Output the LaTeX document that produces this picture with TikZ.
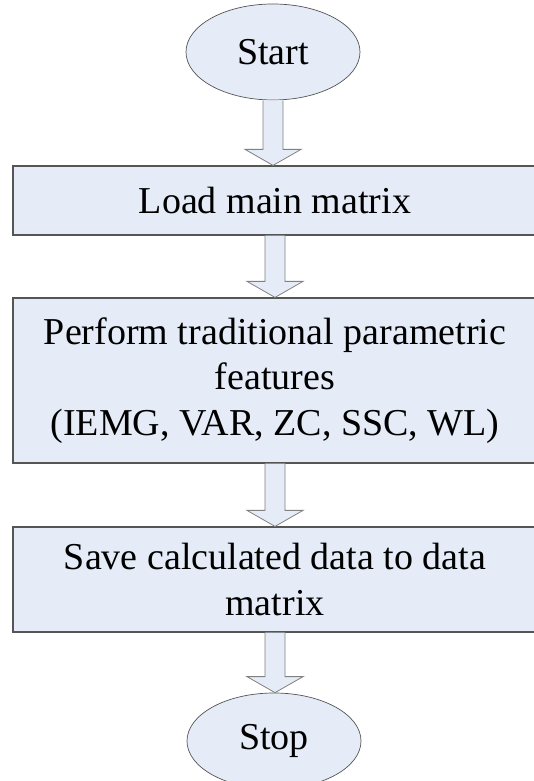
\documentclass[tikz,border=0pt]{standalone}
\usepackage{fontspec}
\setmainfont{Liberation Serif}
\usetikzlibrary{shapes.geometric,calc}
\definecolor{boxfill}{RGB}{229,236,247}
\definecolor{boxline}{RGB}{85,85,85}
\definecolor{arrline}{RGB}{128,128,128}

\begin{document}
\begin{tikzpicture}[x=1pt,y=1pt,font=\fontsize{38}{45.5}\selectfont,
  term/.style={ellipse,draw=boxline,fill=boxfill,line width=0.7pt,minimum width=174pt,minimum height=96pt,inner sep=0pt},
  proc/.style={rectangle,draw=boxline,fill=boxfill,line width=1.2pt,minimum width=524pt,align=center,inner sep=0pt},
  blockarrow/.style={draw=arrline,fill=boxfill,line width=0.8pt,line join=miter}]
\useasboundingbox (0,0) rectangle (533,781);
\node[term] (start) at (273,729) {Start};
\node[proc,minimum height=69pt] (load) at (275,580.5) {Load main matrix};
\node[proc,minimum height=165pt] (perform) at (275,400.5) {Perform traditional parametric\\features\\(IEMG, VAR, ZC, SSC, WL)};
\node[proc,minimum height=105pt] (save) at (275,201.5) {Save calculated data to data\\matrix};
\node[term] (stop) at (274,40) {Stop};
% hollow block arrows between the steps
\foreach \a/\b in {start/load,load/perform,perform/save,save/stop}
  \draw[blockarrow] ($(\a.south)+(-10,0)$) -- ($(\a.south |- \b.north)+(-10,16)$) -- ($(\a.south |- \b.north)+(-28,16)$)
    -- (\a.south |- \b.north) -- ($(\a.south |- \b.north)+(28,16)$) -- ($(\a.south |- \b.north)+(10,16)$) -- ($(\a.south)+(10,0)$);
\end{tikzpicture}
\end{document}
